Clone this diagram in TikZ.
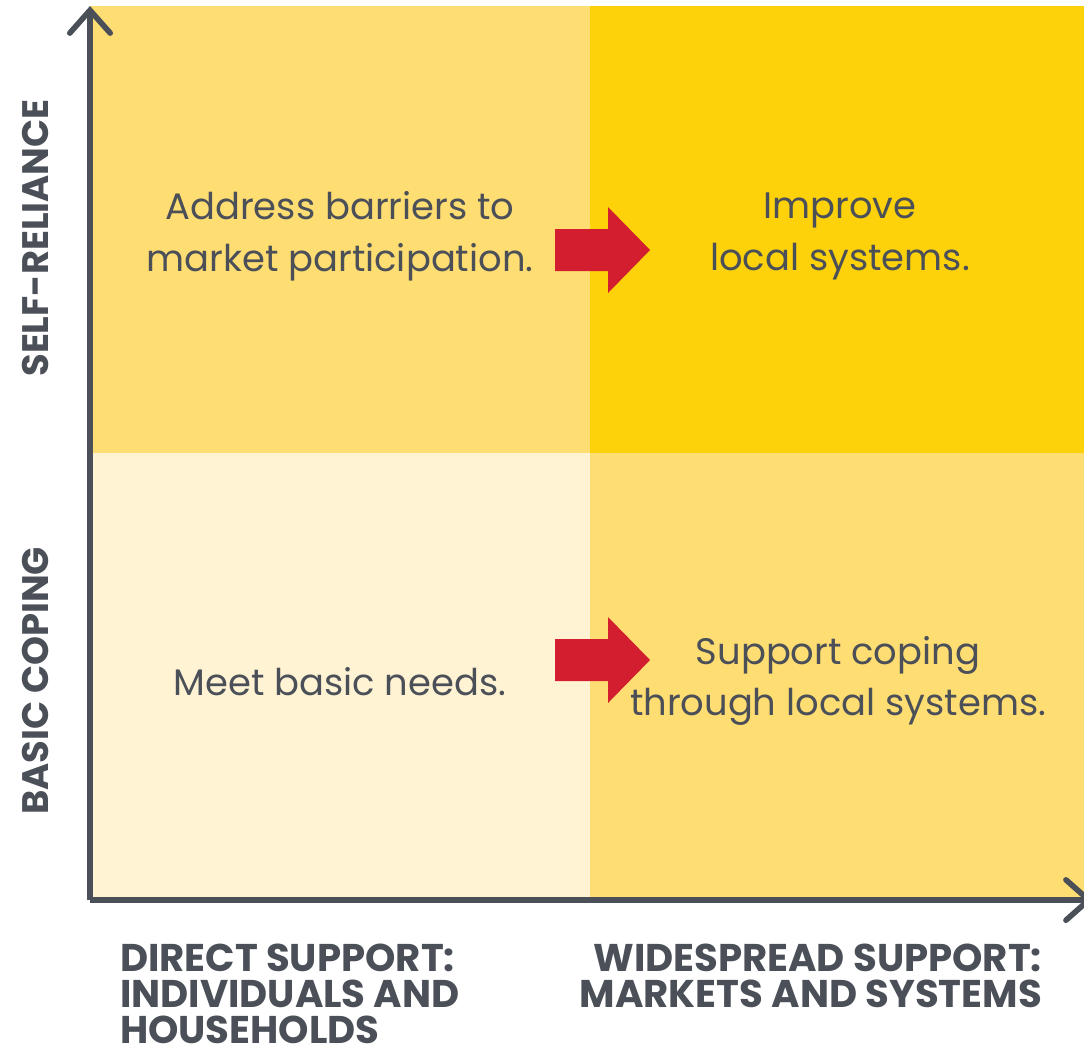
\documentclass[tikz,border=0pt]{standalone}
\usepackage{fontspec}
\setmainfont{Poppins}
\usetikzlibrary{arrows.meta}
\definecolor{lightyel}{HTML}{FEDD72}
\definecolor{deepyel}{HTML}{FDD20B}
\definecolor{creamyel}{HTML}{FFF3D3}
\definecolor{arrowred}{HTML}{D21E2E}
\definecolor{axisgray}{HTML}{4B4F58}
\newcommand{\redarrow}[2]{
  \fill[arrowred] (#1, #2 - 21) -- (#1 + 53, #2 - 21) -- (#1 + 53, #2 - 43)
    -- (#1 + 95, #2) -- (#1 + 53, #2 + 43) -- (#1 + 53, #2 + 21)
    -- (#1, #2 + 21) -- cycle;
}

\begin{document}
\begin{tikzpicture}[x=0.02cm, y=-0.02cm,
    every node/.style={text=axisgray},
    quadtext/.style={align=center, font=\fontsize{21}{29.5}\selectfont},
    axistext/.style={font=\fontsize{22}{20.5}\selectfont\bfseries}]
    \useasboundingbox (0, 0) rectangle (1084, 1056);

    % quadrants
    \fill[lightyel] (90, 6) rectangle (590, 453);
    \fill[deepyel] (590, 6) rectangle (1084, 453);
    \fill[creamyel] (90, 453) rectangle (590, 900);
    \fill[lightyel] (590, 453) rectangle (1084, 900);

    % axes
    \coordinate (origin) at (90, 900);
    \coordinate (ytop) at (90, 6);
    \coordinate (xend) at (1093, 900);
    \draw[axisgray, line width=3.2pt, -{Straight Barb[length=13pt, width=23pt, line cap=round]}] (origin) -- (ytop);
    \draw[axisgray, line width=3.2pt, -{Straight Barb[length=13pt, width=23pt, line cap=round]}] (origin) -- (xend);

    \redarrow{555}{250}
    \redarrow{555}{660}

    \node[quadtext] (barriers) at (340, 236) {Address barriers to\\market participation.};
    \node[quadtext] (improve) at (840, 236) {Improve\\local systems.};
    \node[quadtext] (needs) at (340, 682) {Meet basic needs.};
    \node[quadtext] (coping) at (838, 681) {Support coping\\through local systems.};

    \node[axistext, rotate=90, font=\fontsize{21}{21}\selectfont\bfseries] (selfrel) at (35, 238) {SELF-RELIANCE};
    \node[axistext, rotate=90, font=\fontsize{21}{21}\selectfont\bfseries] (basic) at (35, 681) {BASIC COPING};
    \node[axistext, anchor=north west, align=left, inner sep=1pt] (direct) at (118, 942) {DIRECT SUPPORT:\\INDIVIDUALS AND\\HOUSEHOLDS};
    \node[axistext, anchor=north east, align=right, inner sep=1pt] (widespread) at (1044, 942) {WIDESPREAD SUPPORT:\\MARKETS AND SYSTEMS};
\end{tikzpicture}
\end{document}
